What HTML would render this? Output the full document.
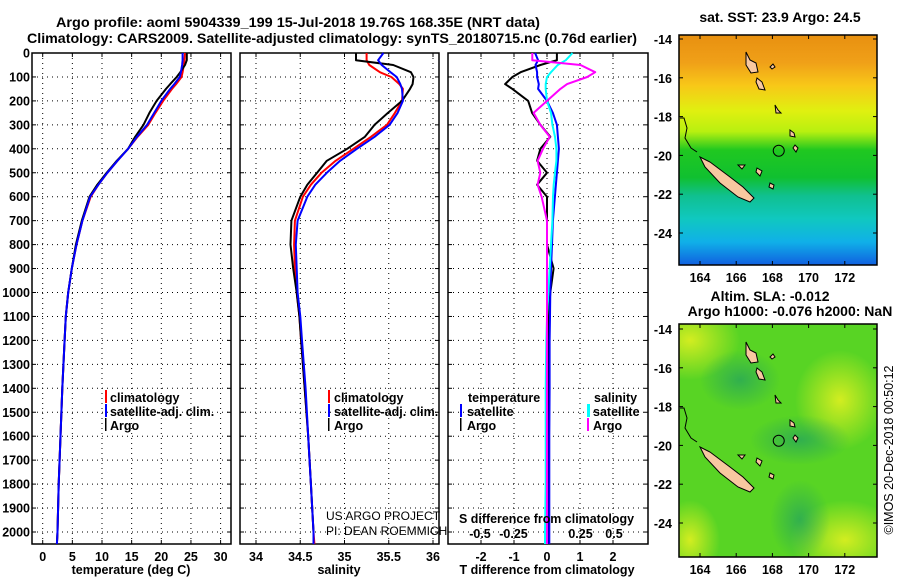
<!DOCTYPE html>
<html><head><meta charset="utf-8"><style>
html,body{margin:0;padding:0;background:#fff;}
svg{display:block;font-family:"Liberation Sans",Arial,sans-serif;}
.b{font-weight:bold;font-size:12.5px;}
.t{font-weight:bold;font-size:14px;}
.g{stroke:#000;stroke-width:1;stroke-dasharray:1,4;fill:none;}
.fr{fill:none;stroke:#000;stroke-width:1.5;}
.ln{fill:none;stroke-width:2;stroke-linejoin:round;}
</style></head><body>
<svg id="chart" width="900" height="580" viewBox="0 0 900 580" xmlns="http://www.w3.org/2000/svg">
<defs>
<linearGradient id="sst" x1="0" y1="0" x2="0" y2="1">
<stop offset="0" stop-color="#e89010"/><stop offset="0.12" stop-color="#f0a018"/><stop offset="0.22" stop-color="#f8c818"/><stop offset="0.33" stop-color="#e0f010"/><stop offset="0.42" stop-color="#b8f010"/><stop offset="0.5" stop-color="#20c820"/><stop offset="0.62" stop-color="#10c030"/><stop offset="0.7" stop-color="#10c090"/><stop offset="0.8" stop-color="#10c8c0"/><stop offset="0.9" stop-color="#10b0e8"/><stop offset="1" stop-color="#1060e0"/>
</linearGradient>
<radialGradient id="y1" cx="0.5" cy="0.5" r="0.5"><stop offset="0" stop-color="#e0f020" stop-opacity="0.9"/><stop offset="1" stop-color="#e0f020" stop-opacity="0"/></radialGradient>
<radialGradient id="d1" cx="0.5" cy="0.5" r="0.5"><stop offset="0" stop-color="#20a060" stop-opacity="0.7"/><stop offset="1" stop-color="#20a060" stop-opacity="0"/></radialGradient>
<clipPath id="clip2"><rect x="679" y="324" width="198" height="233"/></clipPath>
</defs>
<text class="t" x="56" y="27" textLength="484" lengthAdjust="spacingAndGlyphs">Argo profile: aoml 5904339_199 15-Jul-2018 19.76S 168.35E (NRT data)</text>
<text class="t" x="27" y="43" textLength="610" lengthAdjust="spacingAndGlyphs">Climatology: CARS2009. Satellite-adjusted climatology: synTS_20180715.nc (0.76d earlier)</text>
<g id="axes"></g>
<g id="lines"></g>
<g id="maps">
<rect x="679" y="35" width="198" height="230" fill="url(#sst)"/>
<g clip-path="url(#clip2)">
<rect x="679" y="324" width="198" height="233" fill="#58d424"/>
<ellipse cx="690" cy="340" rx="50" ry="40" fill="url(#y1)"/>
<ellipse cx="840" cy="400" rx="45" ry="50" fill="url(#y1)"/>
<ellipse cx="845" cy="540" rx="55" ry="40" fill="url(#y1)"/>
<ellipse cx="690" cy="540" rx="30" ry="40" fill="url(#y1)"/>
<ellipse cx="800" cy="520" rx="30" ry="40" fill="url(#d1)"/>
<ellipse cx="740" cy="380" rx="40" ry="30" fill="url(#d1)"/>
<ellipse cx="800" cy="440" rx="50" ry="25" fill="url(#d1)"/>
</g>
<text class="t" x="780" y="22" text-anchor="middle" font-size="13">sat. SST: 23.9 Argo: 24.5</text>
<text class="t" x="770" y="301" text-anchor="middle" font-size="13">Altim. SLA: -0.012</text>
<text class="t" x="790" y="316" text-anchor="middle" font-size="13">Argo h1000: -0.076 h2000: NaN</text>
<text x="893" y="450" font-size="12.5" text-anchor="middle" transform="rotate(-90 893 450)">©IMOS 20-Dec-2018 00:50:12</text>
</g>
<g class="b">
<text x="110" y="402">climatology</text>
<text x="110" y="416">satellite-adj. clim.</text>
<text x="110" y="430">Argo</text>
<text x="334" y="402">climatology</text>
<text x="334" y="416">satellite-adj. clim.</text>
<text x="334" y="430">Argo</text>
<text x="468" y="402">temperature</text>
<text x="467" y="416">satellite</text>
<text x="467" y="430">Argo</text>
<text x="594" y="402">salinity</text>
<text x="593" y="416">satellite</text>
<text x="593" y="430">Argo</text>
<text x="459" y="523" textLength="175" lengthAdjust="spacingAndGlyphs">S difference from climatology</text>
<text x="131" y="574" text-anchor="middle">temperature (deg C)</text>
<text x="339" y="574" text-anchor="middle">salinity</text>
<text x="547" y="574" text-anchor="middle">T difference from climatology</text>
</g>
<rect x="105" y="390" width="2" height="13" fill="#f00"/><rect x="105" y="404" width="2" height="13" fill="#00f"/><rect x="105" y="418" width="1.5" height="13" fill="#000"/>
<rect x="328" y="390" width="2" height="13" fill="#f00"/><rect x="328" y="404" width="2" height="13" fill="#00f"/><rect x="328" y="418" width="1.5" height="13" fill="#000"/>
<rect x="460" y="404" width="2" height="13" fill="#00f"/><rect x="460" y="418" width="1.5" height="13" fill="#000"/>
<rect x="587" y="404" width="3" height="13" fill="#0ff"/><rect x="587" y="418" width="2" height="13" fill="#f0f"/>
<text x="326" y="520" font-size="12">US ARGO PROJECT</text>
<text x="326" y="535" font-size="12">PI: DEAN ROEMMICH</text>
</svg>
<script>
const depths = [0,30,50,80,100,130,150,200,250,300,350,400,450,500,550,600,700,800,900,1000,1100,1200,1400,1600,1800,2000,2050];
const tempArgo = [24.3,24.3,24.0,23.2,22.6,21.5,20.8,19.2,18.0,17.0,15.6,14.4,12.5,10.8,9.2,7.9,6.6,5.6,4.9,4.3,3.9,3.7,3.3,3.0,2.7,2.5,2.4];
const tempClim = [24.0,23.9,23.8,23.6,23.4,22.5,21.8,20.3,19.0,17.8,16.0,14.4,12.6,10.9,9.4,8.1,6.7,5.7,4.9,4.3,3.9,3.7,3.3,3.0,2.7,2.5,2.4];
const tempSat = [23.6,23.6,23.5,23.3,23.1,22.2,21.5,20.0,18.8,17.6,15.9,14.4,12.6,10.9,9.4,8.0,6.7,5.7,4.9,4.3,3.9,3.7,3.3,3.0,2.7,2.5,2.4];
const salArgo = [35.13,35.13,35.55,35.75,35.78,35.77,35.74,35.65,35.49,35.34,35.23,35.03,34.8,34.69,34.58,34.5,34.40,34.39,34.42,34.46,34.49,34.51,34.55,34.59,34.62,34.65,34.65];
const salClim = [35.25,35.25,35.28,35.40,35.53,35.62,35.66,35.65,35.57,35.48,35.3,35.1,34.9,34.74,34.62,34.53,34.44,34.43,34.44,34.46,34.49,34.51,34.55,34.59,34.62,34.65,34.66];
const salSat = [35.44,35.38,35.42,35.52,35.59,35.63,35.65,35.66,35.60,35.51,35.34,35.14,34.95,34.80,34.67,34.58,34.47,34.45,34.46,34.47,34.50,34.52,34.56,34.59,34.62,34.65,34.65];
const tDiffArgo = [0.3,0.3,-0.2,-0.8,-1.05,-1.27,-1.05,-0.57,-0.45,-0.2,0.1,-0.2,-0.3,0.0,-0.3,0.0,0.0,0.0,0.2,0.1,0.05,0.05,0.05,0.05,0.05,0.05,0.05];
const tDiffSat = [-0.36,-0.27,-0.35,-0.3,-0.3,-0.25,-0.27,0.0,0.18,0.3,0.33,0.36,0.33,0.3,0.27,0.24,0.18,0.15,0.12,0.1,0.09,0.08,0.08,0.07,0.07,0.07,0.07];
const sDiffArgo = [-0.11,-0.11,0.25,0.36,0.3,0.15,0.1,0.0,-0.1,-0.05,0.02,-0.03,-0.07,-0.05,-0.07,-0.04,0,0,0,0,0,0,0,0,0,0,0];
const sDiffSat = [0.19,0.14,0.08,0.03,0.0,-0.01,-0.01,0.0,0.03,0.04,0.06,0.07,0.07,0.06,0.05,0.045,0.04,0.03,0.02,0.01,0.0,-0.005,-0.01,-0.01,-0.01,-0.015,-0.015];
const depthTicks = [0,100,200,300,400,500,600,700,800,900,1000,1100,1200,1300,1400,1500,1600,1700,1800,1900,2000];
const tempTicks = [0,5,10,15,20,25,30];
const salTicks = [34,34.5,35,35.5,36];
const tdTicks = [-2,-1,0,1,2];
const sdTicks = [-0.5,-0.25,0,0.25,0.5];
const sdTickLabels = ["-0.5","-0.25","0","0.25","0.5"];
const latTicks = [-14,-16,-18,-20,-22,-24];
const lonTicks = [164,166,168,170,172];

const NS='http://www.w3.org/2000/svg';
const yD = d => 53 + 0.2395*d;
const xT = v => 42.7 + 5.93*v;
const xS = v => 256 + 88.5*(v-34);
const xTD = v => 547 + 33*v;
const xSD = v => 547 + 134*v;
const axes = document.getElementById('axes');
const lines = document.getElementById('lines');
function mk(tag, attrs, parent){const e=document.createElementNS(NS,tag);for(const k in attrs)e.setAttribute(k,attrs[k]);parent.appendChild(e);return e;}
const panels=[[32,231],[240,439],[448,648]];
const pNames=['temperature-panel','salinity-panel','difference-panel'];
panels.forEach((p,i)=>{
  const r=mk('rect',{x:p[0],y:53,width:p[1]-p[0],height:491,class:'fr'},axes);
  
  
  depthTicks.forEach(d=>{ if(d>0) mk('line',{x1:p[0],x2:p[1],y1:yD(d),y2:yD(d),class:'g'},axes);
    mk('line',{x1:p[0],x2:p[0]+4,y1:yD(d),y2:yD(d),stroke:'#000'},axes);
    mk('line',{x1:p[1]-4,x2:p[1],y1:yD(d),y2:yD(d),stroke:'#000'},axes);});
});
depthTicks.forEach(d=>{const t=mk('text',{x:30,y:yD(d)+4.5,'text-anchor':'end',class:'b'},axes);t.textContent=d;
  
  });
function xaxis(ticks,fx,p,labels,ly){ticks.forEach((v,i)=>{const x=fx(v);
  mk('line',{x1:x,x2:x,y1:53,y2:544,class:'g'},axes);
  mk('line',{x1:x,x2:x,y1:544,y2:540,stroke:'#000'},axes);
  mk('line',{x1:x,x2:x,y1:53,y2:57,stroke:'#000'},axes);
  const t=mk('text',{x:x,y:ly,'text-anchor':'middle',class:'b'},axes);t.textContent=labels?labels[i]:v;
  
  });}
xaxis(tempTicks,xT,panels[0],null,561);
xaxis(salTicks,xS,panels[1],null,561);
xaxis(tdTicks,xTD,panels[2],null,561);
sdTicks.forEach((v,i)=>{const t=mk('text',{x:xSD(v),y:538,'text-anchor':'middle',class:'b'},axes);t.textContent=sdTickLabels[i];
  
  });
function line(vals,fx,color,name){const pts=vals.map((v,i)=>fx(v).toFixed(1)+','+yD(depths[i]).toFixed(1)).join(' ');
  const e=mk('polyline',{points:pts,class:'ln',stroke:color},lines);
  
  }
line(tempClim,xT,'#f00','temp-climatology-line');
line(tempArgo,xT,'#000','temp-argo-line');
line(tempSat,xT,'#00f','temp-satellite-line');
line(salClim,xS,'#f00','sal-climatology-line');
line(salArgo,xS,'#000','sal-argo-line');
line(salSat,xS,'#00f','sal-satellite-line');
line(tDiffArgo,xTD,'#000','tdiff-argo-line');
line(tDiffSat,xTD,'#00f','tdiff-satellite-line');
line(sDiffSat,xSD,'#0ff','sdiff-satellite-line');
line(sDiffArgo,xSD,'#f0f','sdiff-argo-line');

// maps
const maps=document.getElementById('maps');
const mapTops=[[35,265,0],[324,557,290]];
const xLon=l=>700+18.1*(l-164);
const yLat=(l,off)=>39+off+19.4*(-14-l);
const islands=[
 [[700,157],[710,162],[730,177],[743,187],[754,198],[750,202],[738,197],[720,183],[705,167]],
 [[746,52],[750,60],[756,63],[758,72],[751,73],[746,65]],
 [[757,78],[762,82],[765,90],[759,89],[756,82]],
 [[775,105],[778,110],[781,113],[776,113]],
 [[770,67],[773,64],[775,67],[772,69]],
 [[790,130],[794,133],[795,137],[790,136]],
 [[795,145],[798,148],[796,152],[793,148]],
 [[757,168],[762,171],[760,176],[756,172]],
 [[770,183],[774,185],[773,189],[769,187]],
 [[738,165],[745,165],[742,169]]
];
mapTops.forEach((m,mi)=>{
  mk('rect',{x:679,y:m[0],width:198,height:m[1]-m[0],class:'fr'},maps);
  islands.forEach(pl=>{const e=mk('polygon',{points:pl.map(p=>p[0]+','+(p[1]+m[2])).join(' '),fill:'#f8c8a0',stroke:'#000','stroke-width':1},maps);
    
    });
  mk('polyline',{points:[[680,118],[684,118],[687,128],[685,138],[691,148],[697,152]].map(p=>p[0]+','+(p[1]+m[2])).join(' '),fill:'none',stroke:'#000'},maps);
  mk('circle',{cx:xLon(168.35),cy:yLat(-19.76,m[2]),r:5.5,fill:'none',stroke:'#000'},maps);
  latTicks.forEach(l=>{const y=yLat(l,m[2]);
    mk('line',{x1:679,x2:683,y1:y,y2:y,stroke:'#000'},maps);mk('line',{x1:873,x2:877,y1:y,y2:y,stroke:'#000'},maps);
    const t=mk('text',{x:672,y:y+5,'text-anchor':'end',class:'b'},maps);t.textContent=l;
    
    });
  lonTicks.forEach(l=>{const x=xLon(l);
    mk('line',{x1:x,x2:x,y1:m[1],y2:m[1]-4,stroke:'#000'},maps);mk('line',{x1:x,x2:x,y1:m[0],y2:m[0]+4,stroke:'#000'},maps);
    const t=mk('text',{x:x,y:m[1]+17,'text-anchor':'middle',class:'b'},maps);t.textContent=l;
    
    });
});
</script>
</body></html>
